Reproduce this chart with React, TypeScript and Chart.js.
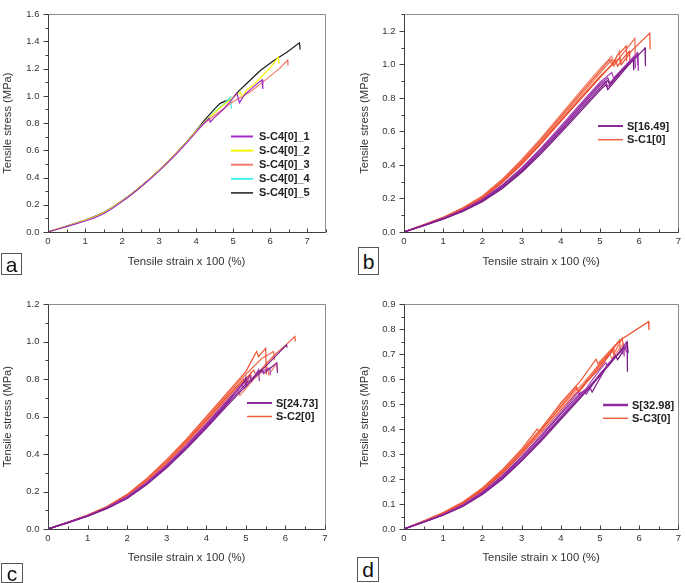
import React, { useEffect, useRef } from 'react';
import { Chart, registerables } from 'chart.js';

Chart.register(...registerables);
Chart.defaults.font.family = '"Liberation Sans", Arial, Helvetica, sans-serif';

type Pt = [number, number];

// ---------- tick values ----------
const xTicks = [0, 1, 2, 3, 4, 5, 6, 7];
const yTicksA = [0, 0.2, 0.4, 0.6, 0.8, 1.0, 1.2, 1.4, 1.6];
const yTicksB = [0, 0.2, 0.4, 0.6, 0.8, 1.0, 1.2];
const yTicksC = [0, 0.2, 0.4, 0.6, 0.8, 1.0, 1.2];
const yTicksD = [0, 0.1, 0.2, 0.3, 0.4, 0.5, 0.6, 0.7, 0.8, 0.9];

const xTitle = 'Tensile strain x 100 (%)';
const yTitle = 'Tensile stress (MPa)';

// ---------- panel a ----------
const labelsA = ['S-C4[0]_1', 'S-C4[0]_2', 'S-C4[0]_3', 'S-C4[0]_4', 'S-C4[0]_5'];
const a1: Pt[] = [[0,0],[0.25,0.02],[0.5,0.04],[0.75,0.06],[1,0.081],[1.25,0.104],[1.5,0.134],[1.75,0.177],[2,0.224],[2.25,0.274],[2.5,0.329],[2.75,0.387],[3,0.449],[3.25,0.515],[3.5,0.584],[3.75,0.656],[4,0.735],[4.2,0.795],[4.35,0.835],[4.38,0.808],[4.5,0.842],[4.75,0.905],[5,0.985],[5.1,1.02],[5.17,0.95],[5.3,1.005],[5.5,1.055],[5.78,1.118],[5.8,1.05]];
const a2: Pt[] = [[0,0],[0.25,0.021],[0.5,0.042],[0.75,0.063],[1,0.086],[1.25,0.11],[1.5,0.14],[1.75,0.181],[2,0.227],[2.25,0.277],[2.5,0.332],[2.75,0.39],[3,0.452],[3.25,0.518],[3.5,0.588],[3.75,0.662],[4,0.742],[4.25,0.815],[4.5,0.878],[4.75,0.935],[5,0.99],[5.2,1.025],[5.25,0.99],[5.35,1.04],[5.5,1.07],[5.75,1.135],[6,1.205],[6.22,1.285],[6.24,1.235]];
const a3: Pt[] = [[0,0],[0.25,0.021],[0.5,0.042],[0.75,0.063],[1,0.085],[1.25,0.109],[1.5,0.139],[1.75,0.18],[2,0.226],[2.25,0.276],[2.5,0.331],[2.75,0.389],[3,0.451],[3.25,0.517],[3.5,0.586],[3.75,0.659],[4,0.738],[4.25,0.805],[4.5,0.858],[4.75,0.908],[5,0.958],[5.25,0.995],[5.5,1.038],[5.75,1.09],[6,1.145],[6.25,1.2],[6.47,1.262],[6.48,1.222]];
const a4: Pt[] = [[0,0],[0.25,0.021],[0.5,0.042],[0.75,0.063],[1,0.086],[1.25,0.11],[1.5,0.14],[1.75,0.181],[2,0.226],[2.25,0.276],[2.5,0.331],[2.75,0.389],[3,0.451],[3.25,0.517],[3.5,0.587],[3.75,0.661],[4,0.74],[4.25,0.815],[4.5,0.882],[4.75,0.94],[4.93,0.99],[4.95,0.905]];
const a5: Pt[] = [[0,0],[0.25,0.022],[0.5,0.044],[0.75,0.065],[1,0.088],[1.25,0.113],[1.5,0.143],[1.75,0.184],[2,0.229],[2.25,0.279],[2.5,0.334],[2.75,0.392],[3,0.454],[3.25,0.52],[3.5,0.59],[3.75,0.664],[4,0.745],[4.25,0.83],[4.5,0.905],[4.65,0.945],[4.8,0.963],[4.95,0.975],[5.15,1.035],[5.4,1.1],[5.75,1.19],[6.1,1.26],[6.45,1.32],[6.79,1.39],[6.81,1.34]];

// ---------- panel b ----------
const labelsB = ['S[16.49]', 'S-C1[0]'];
const bP1: Pt[] = [[0,0],[0.5,0.038],[1,0.078],[1.5,0.125],[2,0.185],[2.5,0.265],[3,0.363],[3.5,0.478],[4,0.603],[4.5,0.73],[5,0.858],[5.2,0.905],[5.25,0.875],[5.5,0.945],[6,1.06],[6.15,1.098],[6.16,0.99]];
const bP2: Pt[] = [[0,0],[0.5,0.039],[1,0.08],[1.5,0.128],[2,0.19],[2.5,0.271],[3,0.37],[3.5,0.487],[4,0.613],[4.5,0.743],[5,0.872],[5.15,0.9],[5.2,0.865],[5.5,0.948],[5.97,1.065],[5.98,0.962]];
const bP3: Pt[] = [[0,0],[0.5,0.04],[1,0.081],[1.5,0.13],[2,0.193],[2.5,0.276],[3,0.377],[3.5,0.495],[4,0.622],[4.5,0.753],[5,0.883],[5.2,0.92],[5.25,0.89],[5.6,0.978],[5.89,1.045],[5.9,0.978]];
const bP4: Pt[] = [[0,0],[0.5,0.04],[1,0.082],[1.5,0.132],[2,0.196],[2.5,0.28],[3,0.382],[3.5,0.502],[4,0.632],[4.5,0.764],[5,0.894],[5.3,0.952],[5.35,0.918],[5.95,1.07],[5.96,0.995]];
const bP5: Pt[] = [[0,0],[0.5,0.037],[1,0.076],[1.5,0.122],[2,0.18],[2.5,0.258],[3,0.355],[3.5,0.468],[4,0.592],[4.5,0.718],[5,0.845],[5.15,0.88],[5.2,0.85],[5.85,1.03],[5.86,0.965]];
const bO1: Pt[] = [[0,0.035],[0.01,0],[0.5,0.041],[1,0.084],[1.5,0.138],[2,0.205],[2.5,0.298],[3,0.41],[3.5,0.535],[4,0.668],[4.5,0.8],[5,0.928],[5.5,1.04],[5.55,1.0],[5.8,1.08],[6.27,1.187],[6.28,1.09]];
const bO2: Pt[] = [[0,0],[0.5,0.042],[1,0.086],[1.5,0.141],[2,0.209],[2.5,0.304],[3,0.418],[3.5,0.545],[4,0.68],[4.5,0.815],[5,0.948],[5.3,1.028],[5.35,0.99],[5.5,1.04],[5.89,1.155],[5.9,1.045]];
const bO3: Pt[] = [[0,0],[0.5,0.043],[1,0.087],[1.5,0.143],[2,0.212],[2.5,0.309],[3,0.425],[3.5,0.553],[4,0.69],[4.5,0.828],[5,0.962],[5.25,1.03],[5.3,0.998],[5.45,1.055],[5.67,1.11],[5.68,1.02]];
const bO4: Pt[] = [[0,0],[0.5,0.043],[1,0.088],[1.5,0.145],[2,0.215],[2.5,0.313],[3,0.432],[3.5,0.562],[4,0.7],[4.5,0.84],[5,0.975],[5.3,1.05],[5.35,1.012],[5.5,1.08],[5.52,0.995]];
const bO5: Pt[] = [[0,0],[0.5,0.041],[1,0.083],[1.5,0.136],[2,0.202],[2.5,0.293],[3,0.403],[3.5,0.527],[4,0.66],[4.5,0.792],[5,0.922],[5.4,1.025],[5.45,0.99],[5.6,1.04],[5.75,1.078],[5.77,1.0]];

// ---------- panel c ----------
const labelsC = ['S[24.73]', 'S-C2[0]'];
const cP1: Pt[] = [[0,0],[0.5,0.033],[1,0.068],[1.5,0.11],[2,0.163],[2.5,0.237],[3,0.327],[3.5,0.428],[4,0.538],[4.5,0.652],[5,0.763],[5.5,0.868],[6.03,0.983],[6.04,0.968]];
const cP2: Pt[] = [[0,0],[0.5,0.034],[1,0.07],[1.5,0.114],[2,0.17],[2.5,0.246],[3,0.338],[3.5,0.442],[4,0.555],[4.5,0.673],[5,0.79],[5.1,0.818],[5.15,0.79],[5.32,0.85],[5.34,0.79]];
const cP3: Pt[] = [[0,0],[0.5,0.034],[1,0.069],[1.5,0.112],[2,0.166],[2.5,0.241],[3,0.332],[3.5,0.435],[4,0.546],[4.5,0.66],[5,0.775],[5.4,0.852],[5.45,0.83],[5.78,0.886],[5.8,0.833]];
const cP4: Pt[] = [[0,0],[0.5,0.035],[1,0.071],[1.5,0.116],[2,0.173],[2.5,0.25],[3,0.343],[3.5,0.449],[4,0.562],[4.5,0.68],[4.9,0.772],[4.95,0.75],[5.3,0.83],[5.61,0.86],[5.62,0.824]];
const cP5: Pt[] = [[0,0],[0.5,0.034],[1,0.07],[1.5,0.113],[2,0.168],[2.5,0.243],[3,0.335],[3.5,0.438],[4,0.55],[4.5,0.666],[4.97,0.79],[5.0,0.808],[5.02,0.76]];
const cO1: Pt[] = [[0,0.04],[0.01,0],[0.5,0.036],[1,0.074],[1.5,0.121],[2,0.185],[2.5,0.27],[3,0.37],[3.5,0.48],[4,0.6],[4.5,0.72],[5,0.84],[5.27,0.948],[5.32,0.92],[5.5,0.965],[5.52,0.824]];
const cO2: Pt[] = [[0,0],[0.5,0.036],[1,0.073],[1.5,0.119],[2,0.181],[2.5,0.264],[3,0.362],[3.5,0.472],[4,0.59],[4.5,0.71],[5,0.826],[5.4,0.91],[5.7,0.948],[5.72,0.9]];
const cO3: Pt[] = [[0,0],[0.5,0.035],[1,0.072],[1.5,0.117],[2,0.177],[2.5,0.258],[3,0.354],[3.5,0.462],[4,0.577],[4.5,0.692],[5,0.802],[5.2,0.848],[5.25,0.82],[5.5,0.878],[5.75,0.935],[6,0.98],[6.24,1.027],[6.25,1.0]];
const cO4: Pt[] = [[0,0],[0.5,0.035],[1,0.071],[1.5,0.116],[2,0.175],[2.5,0.254],[3,0.349],[3.5,0.455],[4,0.568],[4.5,0.682],[4.8,0.742],[4.85,0.712],[5.2,0.8],[5.55,0.862],[5.58,0.822],[5.78,0.886],[5.8,0.842]];
const cO5: Pt[] = [[0,0],[0.5,0.035],[1,0.073],[1.5,0.118],[2,0.179],[2.5,0.261],[3,0.358],[3.5,0.467],[4,0.583],[4.5,0.7],[4.95,0.8],[5.0,0.77],[5.12,0.83],[5.14,0.79]];

// ---------- panel d ----------
const labelsD = ['S[32.98]', 'S-C3[0]'];
const dP1: Pt[] = [[0,0],[0.5,0.027],[1,0.055],[1.5,0.09],[2,0.138],[2.5,0.198],[3,0.272],[3.5,0.352],[4,0.438],[4.5,0.524],[5,0.613],[5.5,0.708],[5.69,0.75],[5.7,0.63]];
const dP2: Pt[] = [[0,0],[0.5,0.028],[1,0.057],[1.5,0.093],[2,0.142],[2.5,0.204],[3,0.28],[3.5,0.362],[4,0.45],[4.5,0.538],[4.6,0.555],[4.65,0.54],[5,0.622],[5.65,0.73],[5.67,0.708]];
const dP3: Pt[] = [[0,0],[0.5,0.028],[1,0.058],[1.5,0.095],[2,0.145],[2.5,0.209],[3,0.286],[3.5,0.37],[4,0.46],[4.5,0.545],[4.75,0.565],[4.8,0.548],[5.2,0.66],[5.56,0.717],[5.58,0.7]];
const dP4: Pt[] = [[0,0],[0.5,0.029],[1,0.059],[1.5,0.097],[2,0.148],[2.5,0.213],[3,0.291],[3.5,0.376],[4,0.466],[4.45,0.548],[4.5,0.532],[5,0.638],[5.15,0.665],[5.2,0.65],[5.6,0.73],[5.62,0.69]];
const dP5: Pt[] = [[0,0],[0.5,0.027],[1,0.056],[1.5,0.092],[2,0.14],[2.5,0.201],[3,0.276],[3.5,0.357],[4,0.444],[4.5,0.53],[5,0.618],[5.4,0.695],[5.45,0.678],[5.7,0.74],[5.72,0.705]];
const dO1: Pt[] = [[0,0.04],[0.01,0],[0.5,0.031],[1,0.063],[1.5,0.103],[2,0.157],[2.5,0.226],[3,0.307],[3.5,0.396],[4,0.49],[4.4,0.565],[4.45,0.545],[5,0.655],[5.52,0.757],[6.24,0.83],[6.25,0.797]];
const dO2: Pt[] = [[0,0],[0.5,0.032],[1,0.065],[1.5,0.106],[2,0.161],[2.5,0.232],[3,0.314],[3.5,0.404],[4,0.5],[4.4,0.572],[4.45,0.552],[5,0.665],[5.3,0.72],[5.35,0.7],[5.57,0.764],[5.6,0.72]];
const dO3: Pt[] = [[0,0],[0.5,0.032],[1,0.066],[1.5,0.108],[2,0.164],[2.5,0.236],[3,0.32],[3.4,0.4],[3.45,0.39],[4,0.505],[4.5,0.592],[4.9,0.68],[4.95,0.662],[5.5,0.755],[5.52,0.712]];
const dO4: Pt[] = [[0,0],[0.5,0.031],[1,0.064],[1.5,0.104],[2,0.158],[2.5,0.228],[3,0.309],[3.5,0.398],[4,0.486],[4.5,0.572],[5,0.66],[5.25,0.702],[5.3,0.682],[5.6,0.742],[5.62,0.7]];
const dO5: Pt[] = [[0,0],[0.5,0.03],[1,0.062],[1.5,0.101],[2,0.153],[2.5,0.221],[3,0.3],[3.5,0.386],[4,0.476],[4.5,0.562],[5,0.645],[5.35,0.72],[5.37,0.68]];

// ---------- styles ----------
const colorsA = ['#A22CC6', '#F6F600', '#F47B6B', '#3CF2F2', '#1C1C1C'];
const purples = ['#7E1E8C', '#9A2FA8', '#8A2596', '#A844B8', '#74167F'];
const oranges = ['#F0502E', '#F26A4C', '#EE5A3A', '#F48068', '#E8462A'];
const legPurple = '#8E2C9E';
const legOrange = '#F0603E';

interface Series { label: string; data: Pt[]; color: string; }
interface LegendItem { label: string; color: string; width: number; }
interface Spec {
  left: number; top: number; width: number; height: number;
  area: { left: number; top: number; right: number; bottom: number };
  xMax: number; yMax: number; yTicks: number[]; yMinor: number; yStepRatio: number;
  series: Series[];
  legend: { x: number; y: number; dy: number; len: number; gap: number; items: LegendItem[] };
  xTitleBottom: number; yTitleTop: number;
}

const group = (label: string, arrs: Pt[][], cols: string[]): Series[] =>
  arrs.map((d, i) => ({ label, data: d, color: cols[i % cols.length] }));

const specs: Spec[] = [
  {
    left: 0, top: 0, width: 340, height: 290,
    area: { left: 48, top: 5, right: 325, bottom: 232 },
    xMax: 7.48, yMax: 1.6, yTicks: yTicksA, yMinor: 0.1, yStepRatio: 2,
    series: [a1, a2, a3, a4, a5].map((d, i) => ({ label: labelsA[i], data: d, color: colorsA[i] })),
    legend: { x: 231, y: 136.5, dy: 14.1, len: 22, gap: 6,
      items: labelsA.map((l, i) => ({ label: l, color: colorsA[i], width: i === 4 ? 1.5 : 2 })) },
    xTitleBottom: 21.5, yTitleTop: 0.8,
  },
  {
    left: 343, top: 0, width: 342, height: 290,
    area: { left: 61, top: 5, right: 338, bottom: 232 },
    xMax: 7, yMax: 1.3, yTicks: yTicksB, yMinor: 0.1, yStepRatio: 2,
    series: [...group(labelsB[0], [bP1, bP2, bP3, bP4, bP5], purples), ...group(labelsB[1], [bO1, bO2, bO3, bO4, bO5], oranges)],
    legend: { x: 255, y: 126, dy: 13.7, len: 25, gap: 4,
      items: [{ label: labelsB[0], color: legPurple, width: 2 }, { label: labelsB[1], color: legOrange, width: 1.5 }] },
    xTitleBottom: 21.5, yTitleTop: 15.2,
  },
  {
    left: 0, top: 290, width: 340, height: 293,
    area: { left: 48, top: 12, right: 325, bottom: 239 },
    xMax: 7, yMax: 1.2, yTicks: yTicksC, yMinor: 0.1, yStepRatio: 2,
    series: [...group(labelsC[0], [cP1, cP2, cP3, cP4, cP5], purples), ...group(labelsC[1], [cO1, cO2, cO3, cO4, cO5], oranges)],
    legend: { x: 247, y: 113, dy: 13.5, len: 25, gap: 4,
      items: [{ label: labelsC[0], color: legPurple, width: 2 }, { label: labelsC[1], color: legOrange, width: 1.5 }] },
    xTitleBottom: 17.9, yTitleTop: 0.8,
  },
  {
    left: 343, top: 290, width: 342, height: 293,
    area: { left: 61, top: 12, right: 338, bottom: 239 },
    xMax: 7, yMax: 0.9, yTicks: yTicksD, yMinor: 0.05, yStepRatio: 2,
    series: [...group(labelsD[0], [dP1, dP2, dP3, dP4, dP5], purples), ...group(labelsD[1], [dO1, dO2, dO3, dO4, dO5], oranges)],
    legend: { x: 260, y: 115, dy: 13.3, len: 25, gap: 4,
      items: [{ label: labelsD[0], color: legPurple, width: 2.5 }, { label: labelsD[1], color: legOrange, width: 1.5 }] },
    xTitleBottom: 17.9, yTitleTop: 15.2,
  },
];

const framePlugin = {
  id: 'frameTicks',
  afterDatasetsDraw(chart: any, _args: any, opts: any) {
    const { ctx, chartArea: a, scales } = chart;
    const L = Math.round(a.left) + 0.5, R = Math.round(a.right) + 0.5;
    const T = Math.round(a.top) + 0.5, B = Math.round(a.bottom) + 0.5;
    ctx.save();
    ctx.lineWidth = 1;
    ctx.strokeStyle = '#8c8c8c';
    ctx.beginPath(); ctx.moveTo(L, T); ctx.lineTo(R, T); ctx.lineTo(R, B); ctx.stroke();
    ctx.strokeStyle = '#404040';
    ctx.beginPath(); ctx.moveTo(L, T); ctx.lineTo(L, B); ctx.lineTo(R, B); ctx.stroke();
    // x ticks (inward)
    const xs = scales.x;
    const nx = Math.round(xs.max / 0.5);
    for (let i = 0; i <= nx; i++) {
      const px = Math.round(xs.getPixelForValue(i * 0.5)) + 0.5;
      const len = i % 2 === 0 ? 4 : 3;
      ctx.beginPath(); ctx.moveTo(px, B); ctx.lineTo(px, B - len); ctx.stroke();
    }
    // y ticks (outward)
    const ys = scales.y;
    const ny = Math.round(ys.max / opts.yMinor);
    for (let i = 0; i <= ny; i++) {
      const py = Math.round(ys.getPixelForValue(i * opts.yMinor)) + 0.5;
      const len = i % opts.yStepRatio === 0 ? 5 : 3;
      ctx.beginPath(); ctx.moveTo(L, py); ctx.lineTo(L - len, py); ctx.stroke();
    }
    ctx.restore();
  },
};

const legendPlugin = {
  id: 'boxLegend',
  afterDraw(chart: any, _args: any, opts: any) {
    const ctx = chart.ctx;
    ctx.save();
    (opts.items as LegendItem[]).forEach((it, i) => {
      const y = opts.y + i * opts.dy;
      ctx.strokeStyle = it.color;
      ctx.lineWidth = it.width;
      ctx.beginPath(); ctx.moveTo(opts.x, y); ctx.lineTo(opts.x + opts.len, y); ctx.stroke();
      ctx.fillStyle = '#222';
      ctx.font = 'bold 11px "Liberation Sans", Arial, sans-serif';
      ctx.textBaseline = 'middle';
      ctx.textAlign = 'left';
      ctx.fillText(it.label, opts.x + opts.len + opts.gap, y + 0.5);
    });
    ctx.restore();
  },
};

function Panel({ spec }: { spec: Spec }) {
  const ref = useRef<HTMLCanvasElement>(null);
  useEffect(() => {
    const s = spec;
    const chart = new Chart(ref.current as HTMLCanvasElement, {
      type: 'scatter',
      data: {
        datasets: s.series.map((sr) => ({
          label: sr.label,
          data: sr.data.map(([x, y]) => ({ x, y })),
          borderColor: sr.color,
          backgroundColor: sr.color,
          borderWidth: 1.2,
          showLine: true,
          pointRadius: 0,
          pointHoverRadius: 0,
          tension: 0,
        })),
      },
      options: {
        animation: false,
        responsive: false,
        maintainAspectRatio: false,
        events: [],
        layout: { padding: { left: 0, top: s.area.top, right: s.width - s.area.right, bottom: 0 } },
        plugins: {
          legend: { display: false },
          tooltip: { enabled: false },
          frameTicks: { yMinor: s.yMinor, yStepRatio: s.yStepRatio },
          boxLegend: s.legend,
        } as any,
        scales: {
          x: {
            type: 'linear', min: 0, max: s.xMax,
            grid: { display: false, drawTicks: false },
            border: { display: false },
            afterFit: (sc: any) => { sc.height = s.height - s.area.bottom; },
            afterBuildTicks: (sc: any) => { sc.ticks = xTicks.map((v) => ({ value: v })); },
            ticks: { padding: 4, color: '#333', font: { size: 9.5 }, maxRotation: 0, autoSkip: false, callback: (v: any) => String(v) },
            title: { display: true, text: xTitle, color: '#333', font: { size: 11.3 }, padding: { top: 0, bottom: s.xTitleBottom } },
          },
          y: {
            type: 'linear', min: 0, max: s.yMax,
            grid: { display: false, drawTicks: false },
            border: { display: false },
            afterFit: (sc: any) => { sc.width = s.area.left; },
            afterBuildTicks: (sc: any) => { sc.ticks = s.yTicks.map((v) => ({ value: v })); },
            ticks: { padding: 8.5, color: '#333', font: { size: 9.5 }, autoSkip: false, callback: (v: any) => Number(v).toFixed(1) },
            title: { display: true, text: yTitle, color: '#333', font: { size: 11.2 }, padding: { top: s.yTitleTop, bottom: 0 } },
          },
        } as any,
      },
      plugins: [framePlugin, legendPlugin],
    } as any);
    return () => chart.destroy();
  }, [spec]);
  return (
    <canvas
      ref={ref}
      width={spec.width}
      height={spec.height}
      style={{ position: 'absolute', left: spec.left, top: spec.top, width: spec.width, height: spec.height }}
    />
  );
}

const panelLetters = [
  { text: 'a', left: 1, top: 253, w: 21, h: 22 },
  { text: 'b', left: 358, top: 247, w: 21, h: 28 },
  { text: 'c', left: 1, top: 563, w: 22, h: 20 },
  { text: 'd', left: 357, top: 557, w: 22, h: 25 },
];

export default function App() {
  return (
    <div style={{ position: 'absolute', left: 0, top: 0, width: 685, height: 583, background: '#fff', overflow: 'hidden' }}>
      {specs.map((sp, i) => <Panel key={i} spec={sp} />)}
      {panelLetters.map((p) => (
        <div
          key={p.text}
          style={{
            position: 'absolute', left: p.left, top: p.top, width: p.w, height: p.h,
            border: '1px solid #555', boxSizing: 'border-box', background: '#fff',
            display: 'flex', alignItems: 'center', justifyContent: 'center',
            fontFamily: '"Liberation Sans", Arial, sans-serif', fontSize: 21, color: '#111', lineHeight: 1,
          }}
        >
          {p.text}
        </div>
      ))}
    </div>
  );
}
